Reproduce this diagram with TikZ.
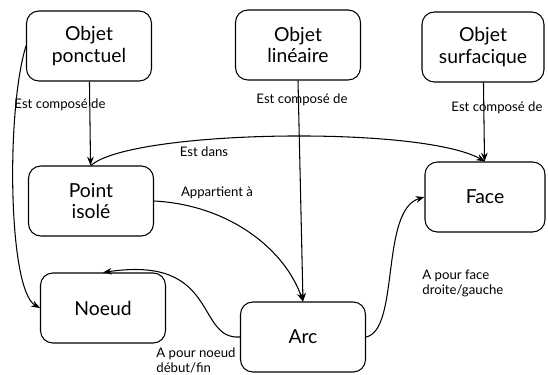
\documentclass[tikz,border=0pt]{standalone}
\usepackage{fontspec}
\setmainfont{Lato}
\usetikzlibrary{arrows.meta}

\begin{document}
\begin{tikzpicture}[x=0.02cm, y=-0.02cm, >={Stealth[length=5pt]}, semithick,
	box/.style={draw, rounded corners=7pt, minimum width=2.5cm, minimum height=1.4cm, align=center, font=\fontsize{11}{12}\selectfont},
	lbl/.style={font=\fontsize{7.5}{8.5}\selectfont, align=left}]
	\useasboundingbox (0,0) rectangle (548,375);
	\node[box] (ponct) at (89,46) {Objet\\ponctuel};
	\node[box] (lin) at (298,45) {Objet\\linéaire};
	\node[box, minimum width=2.44cm] (surf) at (483,47) {Objet\\surfacique};
	\node[box] (point) at (91,201) {Point\\isolé};
	\node[box, minimum width=2.4cm] (face) at (485,197) {Face};
	\node[box] (noeud) at (103,308) {Noeud};
	\node[box] (arc) at (303,337) {Arc};
	\draw[->] (ponct) -- (point);
	\draw[->] (lin.south) -- (arc.north);
	\draw[->] (surf) -- (face);
	\draw[->] (ponct.west) .. controls (6,110) and (8,290) .. (noeud.west);
	\draw[->] (point.north) .. controls (130,130) and (420,125) .. (face.north);
	\draw[->] (point.east) .. controls (230,205) and (285,250) .. (arc.north);
	\draw[->] (arc.west) .. controls (195,340) and (220,255) .. (noeud.north);
	\draw[->] (arc.east) .. controls (400,330) and (380,210) .. (face.west);
	\node[lbl] (l1) at (60,105) {Est composé de};
	\node[lbl] (l2) at (302,100) {Est composé de};
	\node[lbl] (l3) at (497,108) {Est composé de};
	\node[lbl] (l4) at (204,152) {Est dans};
	\node[lbl] (l5) at (217,193) {Appartient à};
	\node[lbl, anchor=west] (l6) at (150,360) {A pour noeud\\début/fin};
	\node[lbl, anchor=west] (l7) at (416,283) {A pour face\\droite/gauche};
\end{tikzpicture}
\end{document}
